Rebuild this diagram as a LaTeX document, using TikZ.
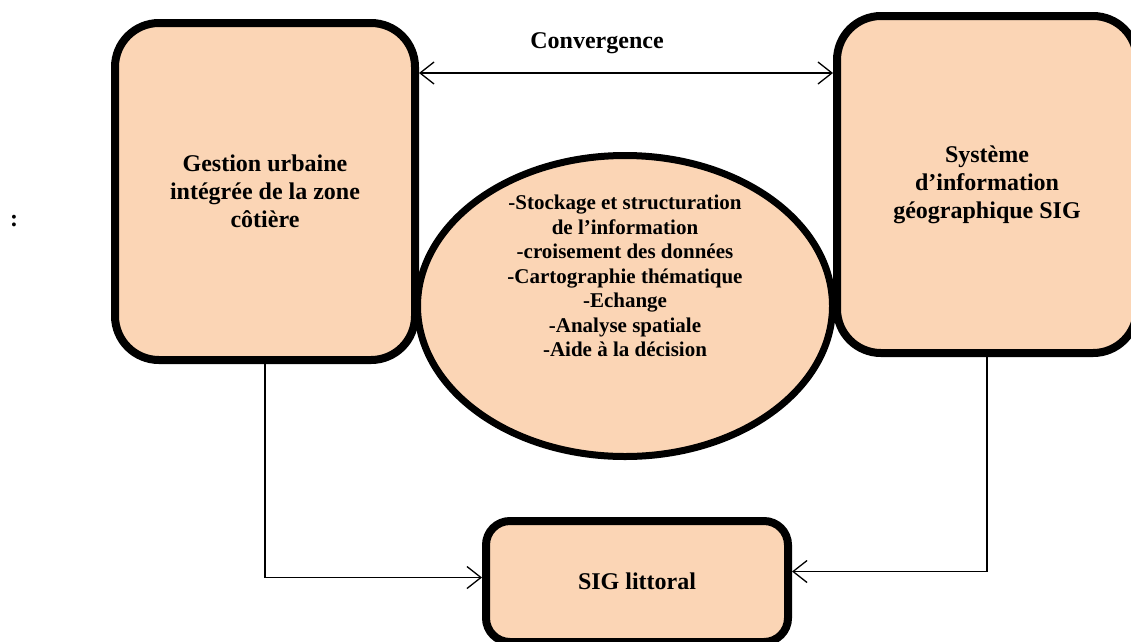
\documentclass[tikz,border=0pt]{standalone}
\usepackage{fontspec}
\setmainfont{Liberation Serif}
\usetikzlibrary{arrows.meta,calc,shapes.geometric}
\definecolor{peach}{HTML}{FBD5B5}
\begin{document}
\begin{tikzpicture}[x=1pt,y=-1pt,
  bigbox/.style={draw=black,line width=8pt,fill=peach,rounded corners=44pt,
    minimum width=300pt,minimum height=337pt,inner sep=0pt,align=center,
    font=\fontsize{24}{28}\selectfont\bfseries},
  smallbox/.style={draw=black,line width=8pt,fill=peach,rounded corners=24pt,
    minimum width=302pt,minimum height=121pt,inner sep=0pt,align=center,
    font=\fontsize{24}{28}\selectfont\bfseries},
  oval/.style={ellipse,draw=black,line width=7pt,fill=peach,
    minimum width=415pt,minimum height=301pt,inner sep=0pt},
  link/.style={line width=1.3pt,draw=black,{Straight Barb[length=14pt,width=22pt,line width=1.3pt]}-{Straight Barb[length=14pt,width=22pt,line width=1.3pt]}},
  tolink/.style={line width=1.3pt,draw=black,-{Straight Barb[length=14pt,width=22pt,line width=1.3pt]}}
]
\useasboundingbox (0,0) rectangle (1131,641);
\clip (0,0) rectangle (1131,641);

% main blocks
\node[bigbox] (gizc) at (265,191.5) {Gestion urbaine\\intégrée de la zone\\côtière};
\node[bigbox] (sig) at (987,184.5) {Système\\d’information\\géographique SIG};
\node[oval] (fn) at (625,306) {};
\node[align=center,font=\fontsize{21}{24.5}\selectfont\bfseries] (fntext) at (625,276)
  {-Stockage et structuration\\de l’information\\-croisement des données\\-Cartographie thématique\\-Echange\\-Analyse spatiale\\-Aide à la décision};
\node[smallbox] (lit) at (637,581.5) {SIG littoral};

% stray colon on the left margin
\node[font=\fontsize{24}{28}\selectfont\bfseries] (colon) at (14,221) {:};

% convergence link between the two main blocks
\coordinate (conv) at (625,73);
\draw[link] (gizc.east |- conv) -- (sig.west |- conv);
\node[font=\fontsize{24}{28}\selectfont\bfseries] (convlbl) at (597,43) {Convergence};

% both blocks feed the coastal GIS
\coordinate (inL) at ($(lit.west)+(0,-4)$);
\coordinate (inR) at ($(lit.east)+(0,-10)$);
\draw[tolink] (gizc.south) |- (inL);
\draw[tolink] (sig.south) |- (inR);
\end{tikzpicture}
\end{document}
